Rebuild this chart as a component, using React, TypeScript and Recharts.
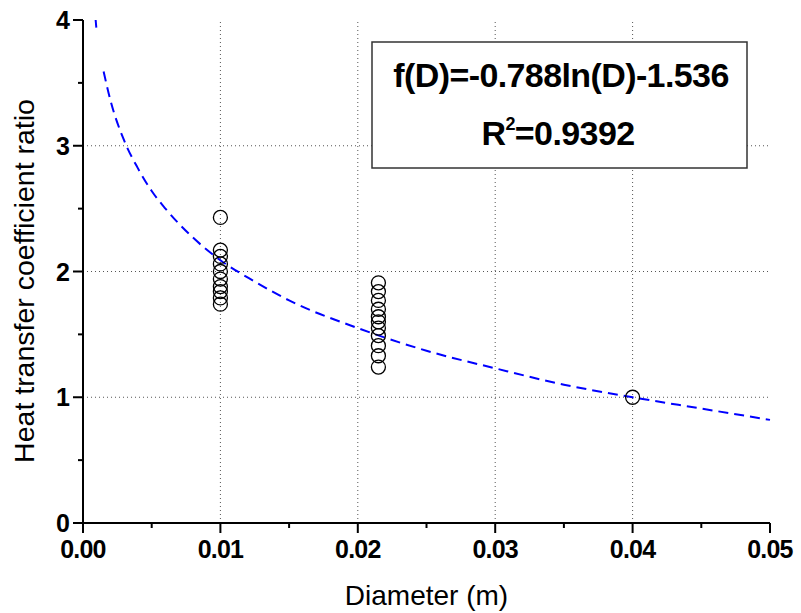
import {
  ComposedChart, Line, Scatter, XAxis, YAxis, ReferenceLine, Label
} from "recharts";

// measured ratios
const diameters = [0.01, 0.0215, 0.04];
const ratiosAt010 = [2.43, 2.17, 2.12, 2.06, 2.0, 1.94, 1.88, 1.84, 1.79, 1.74];
const ratiosAt0215 = [1.91, 1.84, 1.77, 1.7, 1.64, 1.6, 1.55, 1.49, 1.41, 1.33, 1.24];
const ratiosAt040 = [1.0];

// fitted curve
const fitD = [0.0015, 0.002, 0.003, 0.004, 0.005, 0.006, 0.008, 0.01, 0.0125, 0.015, 0.02, 0.025, 0.03, 0.035, 0.04, 0.045, 0.05];
const fitRatio = [3.59, 3.36, 3.04, 2.82, 2.64, 2.5, 2.27, 2.09, 1.92, 1.77, 1.55, 1.37, 1.23, 1.1, 1.0, 0.91, 0.82];
// little stub of the curve at the top edge
const fitTopD = [0.00092, 0.00097];
const fitTopRatio = [4.0, 3.94];

const xTicks = [0, 0.005, 0.01, 0.015, 0.02, 0.025, 0.03, 0.035, 0.04, 0.045, 0.05];
const yTicks = [0, 0.5, 1, 1.5, 2, 2.5, 3, 3.5, 4];
const xGrid = [0.01, 0.02, 0.03, 0.04];
const yGrid = [1, 2, 3];

const FONT = "'Liberation Sans', Arial, sans-serif";

const points = [
  ...ratiosAt010.map((y) => ({ x: diameters[0], y })),
  ...ratiosAt0215.map((y) => ({ x: diameters[1], y })),
  ...ratiosAt040.map((y) => ({ x: diameters[2], y })),
];
const fitData = fitD.map((x, i) => ({ x, y: fitRatio[i] }));
const fitTopData = fitTopD.map((x, i) => ({ x, y: fitTopRatio[i] }));

const XTick = (props: any) => {
  const { x, y, payload } = props;
  const major = Math.round(payload.value * 1000) % 10 === 0;
  return (
    <g>
      <line x1={x} y1={y} x2={x} y2={y + (major ? 10 : 5)} stroke="#000" strokeWidth={2} />
      {major && (
        <text x={x} y={y + 35} textAnchor="middle" fontFamily={FONT} fontWeight="bold" fontSize={25} letterSpacing={-0.8} fill="#000">
          {payload.value.toFixed(2)}
        </text>
      )}
    </g>
  );
};

const YTick = (props: any) => {
  const { x, y, payload } = props;
  const major = payload.value % 1 === 0;
  return (
    <g>
      <line x1={x} y1={y} x2={x - (major ? 10 : 5)} y2={y} stroke="#000" strokeWidth={2} />
      {major && (
        <text x={x - 13} y={y + 9} textAnchor="end" fontFamily={FONT} fontWeight="bold" fontSize={25} fill="#000">
          {payload.value}
        </text>
      )}
    </g>
  );
};

const Ring = (props: any) => (
  <circle cx={props.cx} cy={props.cy} r={7} fill="none" stroke="#000" strokeWidth={1.3} />
);

export default function App() {
  return (
    <div style={{ position: "absolute", left: 0, top: 0, width: 801, height: 613, background: "#fff" }}>
      <ComposedChart width={801} height={613} margin={{ top: 20, right: 31, bottom: 0, left: 0 }}>
        <XAxis
          dataKey="x" type="number" domain={[0, 0.05]} ticks={xTicks} interval={0}
          height={90} tickSize={0} tickMargin={0} tick={<XTick />}
          axisLine={{ stroke: "#000", strokeWidth: 2 }}
        >
          <Label
            content={() => (
              <text x={426.5} y={605} textAnchor="middle" fontFamily={FONT} fontSize={28} fill="#000">
                Diameter (m)
              </text>
            )}
          />
        </XAxis>
        <XAxis xAxisId="top" orientation="top" type="number" domain={[0, 0.05]} height={0}
          tick={false} tickLine={false} axisLine={{ stroke: "#000", strokeWidth: 2 }} />
        <YAxis
          type="number" domain={[0, 4]} ticks={yTicks} interval={0} width={83}
          tickSize={0} tickMargin={0} tick={<YTick />}
          axisLine={{ stroke: "#000", strokeWidth: 2 }}
        >
          <Label
            content={() => (
              <text x={34} y={281} transform="rotate(-90, 34, 281)" textAnchor="middle" fontFamily={FONT} fontSize={28.5} fill="#000">
                Heat transfer coefficient ratio
              </text>
            )}
          />
        </YAxis>
        <YAxis yAxisId="right" orientation="right" type="number" domain={[0, 4]} width={0}
          tick={false} tickLine={false} axisLine={{ stroke: "#000", strokeWidth: 2 }} />

        {xGrid.map((v) => (
          <ReferenceLine key={"gx" + v} x={v} stroke="#555" strokeDasharray="1 3" strokeWidth={1} />
        ))}
        {yGrid.map((v) => (
          <ReferenceLine key={"gy" + v} y={v} stroke="#555" strokeDasharray="1 3" strokeWidth={1} />
        ))}

        <Line data={fitTopData} dataKey="y" type="linear" stroke="#0000ff" strokeWidth={2}
          dot={false} activeDot={false} isAnimationActive={false} />
        <Line data={fitData} dataKey="y" type="monotone" stroke="#0000ff" strokeWidth={2}
          strokeDasharray="10 6" dot={false} activeDot={false} isAnimationActive={false} />
        <Scatter data={points} dataKey="y" shape={<Ring />} isAnimationActive={false} />
      </ComposedChart>

      <svg width={377} height={128} style={{ position: "absolute", left: 371, top: 41 }}>
        <rect x={1} y={1} width={375} height={126} fill="#fff" stroke="#333" strokeWidth={1.5} />
        <text x={190} y={46} textAnchor="middle" fontFamily={FONT} fontWeight="bold" fontSize={34} letterSpacing={-0.6} fill="#000">
          f(D)=-0.788ln(D)-1.536
        </text>
        <text x={187} y={104} textAnchor="middle" fontFamily={FONT} fontWeight="bold" fontSize={34} letterSpacing={-0.6} fill="#000">
          R<tspan dy={-15} fontSize={18}>2</tspan><tspan dy={15}>=0.9392</tspan>
        </text>
      </svg>
    </div>
  );
}
